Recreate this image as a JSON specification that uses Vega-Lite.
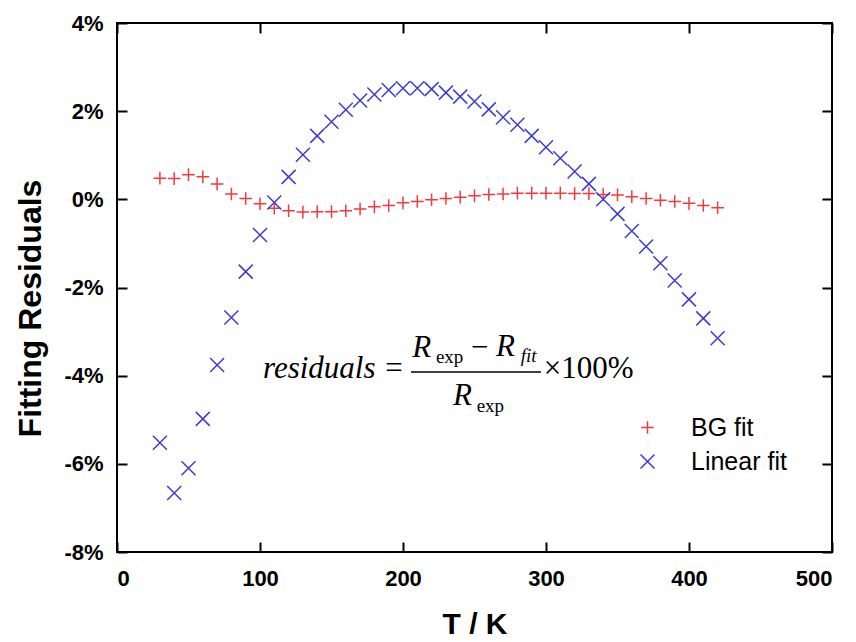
{
  "$schema": "https://vega.github.io/schema/vega-lite/v6.json",
  "width": 715,
  "height": 529,
  "autosize": "none",
  "padding": {"left": 117, "top": 23, "right": 24, "bottom": 90},
  "background": "white",
  "config": {
    "view": {"stroke": "black", "strokeWidth": 2},
    "font": "Liberation Sans",
    "axis": {
      "labelFont": "Liberation Sans",
      "labelFontWeight": "bold",
      "labelColor": "black",
      "titleFont": "Liberation Sans",
      "titleFontWeight": "bold",
      "titleColor": "black",
      "grid": false,
      "domain": false
    }
  },
  "datasets": {
    "residuals": [
      {"T": 30, "r": 0.48, "fit": "BG fit"},
      {"T": 40, "r": 0.47, "fit": "BG fit"},
      {"T": 50, "r": 0.56, "fit": "BG fit"},
      {"T": 60, "r": 0.51, "fit": "BG fit"},
      {"T": 70, "r": 0.35, "fit": "BG fit"},
      {"T": 80, "r": 0.12, "fit": "BG fit"},
      {"T": 90, "r": 0.02, "fit": "BG fit"},
      {"T": 100, "r": -0.10, "fit": "BG fit"},
      {"T": 110, "r": -0.20, "fit": "BG fit"},
      {"T": 120, "r": -0.26, "fit": "BG fit"},
      {"T": 130, "r": -0.29, "fit": "BG fit"},
      {"T": 140, "r": -0.28, "fit": "BG fit"},
      {"T": 150, "r": -0.28, "fit": "BG fit"},
      {"T": 160, "r": -0.26, "fit": "BG fit"},
      {"T": 170, "r": -0.22, "fit": "BG fit"},
      {"T": 180, "r": -0.17, "fit": "BG fit"},
      {"T": 190, "r": -0.14, "fit": "BG fit"},
      {"T": 200, "r": -0.08, "fit": "BG fit"},
      {"T": 210, "r": -0.05, "fit": "BG fit"},
      {"T": 220, "r": -0.01, "fit": "BG fit"},
      {"T": 230, "r": 0.02, "fit": "BG fit"},
      {"T": 240, "r": 0.05, "fit": "BG fit"},
      {"T": 250, "r": 0.08, "fit": "BG fit"},
      {"T": 260, "r": 0.11, "fit": "BG fit"},
      {"T": 270, "r": 0.12, "fit": "BG fit"},
      {"T": 280, "r": 0.14, "fit": "BG fit"},
      {"T": 290, "r": 0.14, "fit": "BG fit"},
      {"T": 300, "r": 0.14, "fit": "BG fit"},
      {"T": 310, "r": 0.14, "fit": "BG fit"},
      {"T": 320, "r": 0.13, "fit": "BG fit"},
      {"T": 330, "r": 0.13, "fit": "BG fit"},
      {"T": 340, "r": 0.11, "fit": "BG fit"},
      {"T": 350, "r": 0.10, "fit": "BG fit"},
      {"T": 360, "r": 0.06, "fit": "BG fit"},
      {"T": 370, "r": 0.02, "fit": "BG fit"},
      {"T": 380, "r": -0.02, "fit": "BG fit"},
      {"T": 390, "r": -0.05, "fit": "BG fit"},
      {"T": 400, "r": -0.09, "fit": "BG fit"},
      {"T": 410, "r": -0.14, "fit": "BG fit"},
      {"T": 420, "r": -0.19, "fit": "BG fit"},
      {"T": 30, "r": -5.52, "fit": "Linear fit"},
      {"T": 40, "r": -6.66, "fit": "Linear fit"},
      {"T": 50, "r": -6.10, "fit": "Linear fit"},
      {"T": 60, "r": -4.98, "fit": "Linear fit"},
      {"T": 70, "r": -3.76, "fit": "Linear fit"},
      {"T": 80, "r": -2.68, "fit": "Linear fit"},
      {"T": 90, "r": -1.64, "fit": "Linear fit"},
      {"T": 100, "r": -0.81, "fit": "Linear fit"},
      {"T": 110, "r": -0.07, "fit": "Linear fit"},
      {"T": 120, "r": 0.51, "fit": "Linear fit"},
      {"T": 130, "r": 1.01, "fit": "Linear fit"},
      {"T": 140, "r": 1.44, "fit": "Linear fit"},
      {"T": 150, "r": 1.76, "fit": "Linear fit"},
      {"T": 160, "r": 2.03, "fit": "Linear fit"},
      {"T": 170, "r": 2.24, "fit": "Linear fit"},
      {"T": 180, "r": 2.38, "fit": "Linear fit"},
      {"T": 190, "r": 2.48, "fit": "Linear fit"},
      {"T": 200, "r": 2.52, "fit": "Linear fit"},
      {"T": 210, "r": 2.52, "fit": "Linear fit"},
      {"T": 220, "r": 2.50, "fit": "Linear fit"},
      {"T": 230, "r": 2.42, "fit": "Linear fit"},
      {"T": 240, "r": 2.33, "fit": "Linear fit"},
      {"T": 250, "r": 2.22, "fit": "Linear fit"},
      {"T": 260, "r": 2.04, "fit": "Linear fit"},
      {"T": 270, "r": 1.86, "fit": "Linear fit"},
      {"T": 280, "r": 1.69, "fit": "Linear fit"},
      {"T": 290, "r": 1.44, "fit": "Linear fit"},
      {"T": 300, "r": 1.18, "fit": "Linear fit"},
      {"T": 310, "r": 0.93, "fit": "Linear fit"},
      {"T": 320, "r": 0.63, "fit": "Linear fit"},
      {"T": 330, "r": 0.35, "fit": "Linear fit"},
      {"T": 340, "r": 0.00, "fit": "Linear fit"},
      {"T": 350, "r": -0.33, "fit": "Linear fit"},
      {"T": 360, "r": -0.72, "fit": "Linear fit"},
      {"T": 370, "r": -1.07, "fit": "Linear fit"},
      {"T": 380, "r": -1.45, "fit": "Linear fit"},
      {"T": 390, "r": -1.84, "fit": "Linear fit"},
      {"T": 400, "r": -2.27, "fit": "Linear fit"},
      {"T": 410, "r": -2.70, "fit": "Linear fit"},
      {"T": 420, "r": -3.15, "fit": "Linear fit"}
    ]
  },
  "layer": [
    {
      "data": {"name": "residuals"},
      "mark": {"type": "point", "filled": false, "strokeWidth": 1.5, "opacity": 1},
      "encoding": {
        "x": {
          "field": "T", "type": "quantitative",
          "scale": {"domain": [0, 500], "nice": false, "zero": false},
          "axis": {
            "orient": "bottom", "values": [0, 100, 200, 300, 400, 500],
            "ticks": false, "labelFontSize": 22, "labelPadding": 16,
            "title": "T / K", "titleFontSize": 30,
            "titleBaseline": "alphabetic", "titleY": 81
          }
        },
        "y": {
          "field": "r", "type": "quantitative",
          "scale": {"domain": [-8, 4], "nice": false, "zero": false},
          "axis": {
            "orient": "left", "values": [-8, -6, -4, -2, 0, 2, 4],
            "labelExpr": "datum.value + '%'",
            "ticks": false, "labelFontSize": 22, "labelPadding": 14,
            "title": "Fitting Residuals", "titleFontSize": 32,
            "titleBaseline": "alphabetic", "titleAlign": "center",
            "titleX": -77, "titleY": 285
          }
        },
        "color": {
          "field": "fit", "type": "nominal",
          "scale": {"domain": ["BG fit", "Linear fit"], "range": ["#f03c3c", "#3c3cd2"]},
          "legend": {
            "orient": "none", "legendX": 518, "legendY": 392, "title": null,
            "padding": 0, "labelFontSize": 25, "labelFont": "Liberation Sans",
            "labelColor": "black", "labelOffset": 31, "rowPadding": 8,
            "symbolStrokeWidth": 1.5
          }
        },
        "shape": {
          "field": "fit", "type": "nominal",
          "scale": {"domain": ["BG fit", "Linear fit"], "range": ["M-1,0L1,0M0,-1L0,1", "M-1,-1L1,1M-1,1L1,-1"]}
        },
        "size": {
          "field": "fit", "type": "nominal",
          "scale": {"domain": ["BG fit", "Linear fit"], "range": [160, 196]}
        }
      }
    },
    {
      "data": {"values": [
        {"label": "residuals =", "T": 102.1, "r": -4.05},
        {"label": "R", "T": 206.5, "r": -3.576},
        {"label": "R", "T": 265.0, "r": -3.553},
        {"label": "R", "T": 235.0, "r": -4.666}
      ]},
      "mark": {"type": "text", "font": "Liberation Serif", "fontStyle": "italic", "fontSize": 31, "align": "left", "baseline": "alphabetic", "color": "black"},
      "encoding": {
        "x": {
          "field": "T", "type": "quantitative",
          "axis": {"orient": "bottom", "values": [0, 100, 200, 300, 400, 500], "labels": false, "ticks": true, "tickSize": -10, "tickWidth": 2, "tickColor": "black", "title": null}
        },
        "y": {
          "field": "r", "type": "quantitative",
          "axis": {"orient": "left", "values": [-8, -6, -4, -2, 0, 2, 4], "labels": false, "ticks": true, "tickSize": -10, "tickWidth": 2, "tickColor": "black", "title": null}
        },
        "text": {"field": "label"}
      }
    },
    {
      "data": {"values": [
        {"label": "−", "T": 247.5, "r": -3.576},
        {"label": "×100%", "T": 298.5, "r": -4.054}
      ]},
      "mark": {"type": "text", "font": "Liberation Serif", "fontSize": 31, "align": "left", "baseline": "alphabetic", "color": "black"},
      "encoding": {
        "x": {"field": "T", "type": "quantitative", "axis": null},
        "y": {"field": "r", "type": "quantitative", "axis": null},
        "text": {"field": "label"}
      }
    },
    {
      "data": {"values": [
        {"label": "exp", "T": 223.0, "r": -3.712},
        {"label": "exp", "T": 251.5, "r": -4.825}
      ]},
      "mark": {"type": "text", "font": "Liberation Serif", "fontSize": 19, "align": "left", "baseline": "alphabetic", "color": "black"},
      "encoding": {
        "x": {"field": "T", "type": "quantitative", "axis": null},
        "y": {"field": "r", "type": "quantitative", "axis": null},
        "text": {"field": "label"}
      }
    },
    {
      "data": {"values": [
        {"label": "fit", "T": 282.3, "r": -3.689}
      ]},
      "mark": {"type": "text", "font": "Liberation Serif", "fontStyle": "italic", "fontSize": 19, "align": "left", "baseline": "alphabetic", "color": "black"},
      "encoding": {
        "x": {"field": "T", "type": "quantitative", "axis": null},
        "y": {"field": "r", "type": "quantitative", "axis": null},
        "text": {"field": "label"}
      }
    },
    {
      "data": {"values": [
        {"T": 205.6, "T2": 296.5, "r": -3.917}
      ]},
      "mark": {"type": "rule", "strokeWidth": 1.5, "color": "black"},
      "encoding": {
        "x": {
          "field": "T", "type": "quantitative",
          "axis": {"orient": "top", "values": [0, 100, 200, 300, 400, 500], "labels": false, "ticks": true, "tickSize": -10, "tickWidth": 2, "tickColor": "black", "title": null}
        },
        "x2": {"field": "T2"},
        "y": {
          "field": "r", "type": "quantitative",
          "axis": {"orient": "right", "values": [-8, -6, -4, -2, 0, 2, 4], "labels": false, "ticks": true, "tickSize": -10, "tickWidth": 2, "tickColor": "black", "title": null}
        }
      }
    }
  ],
  "resolve": {"axis": {"x": "independent", "y": "independent"}, "scale": {"x": "shared", "y": "shared"}}
}
